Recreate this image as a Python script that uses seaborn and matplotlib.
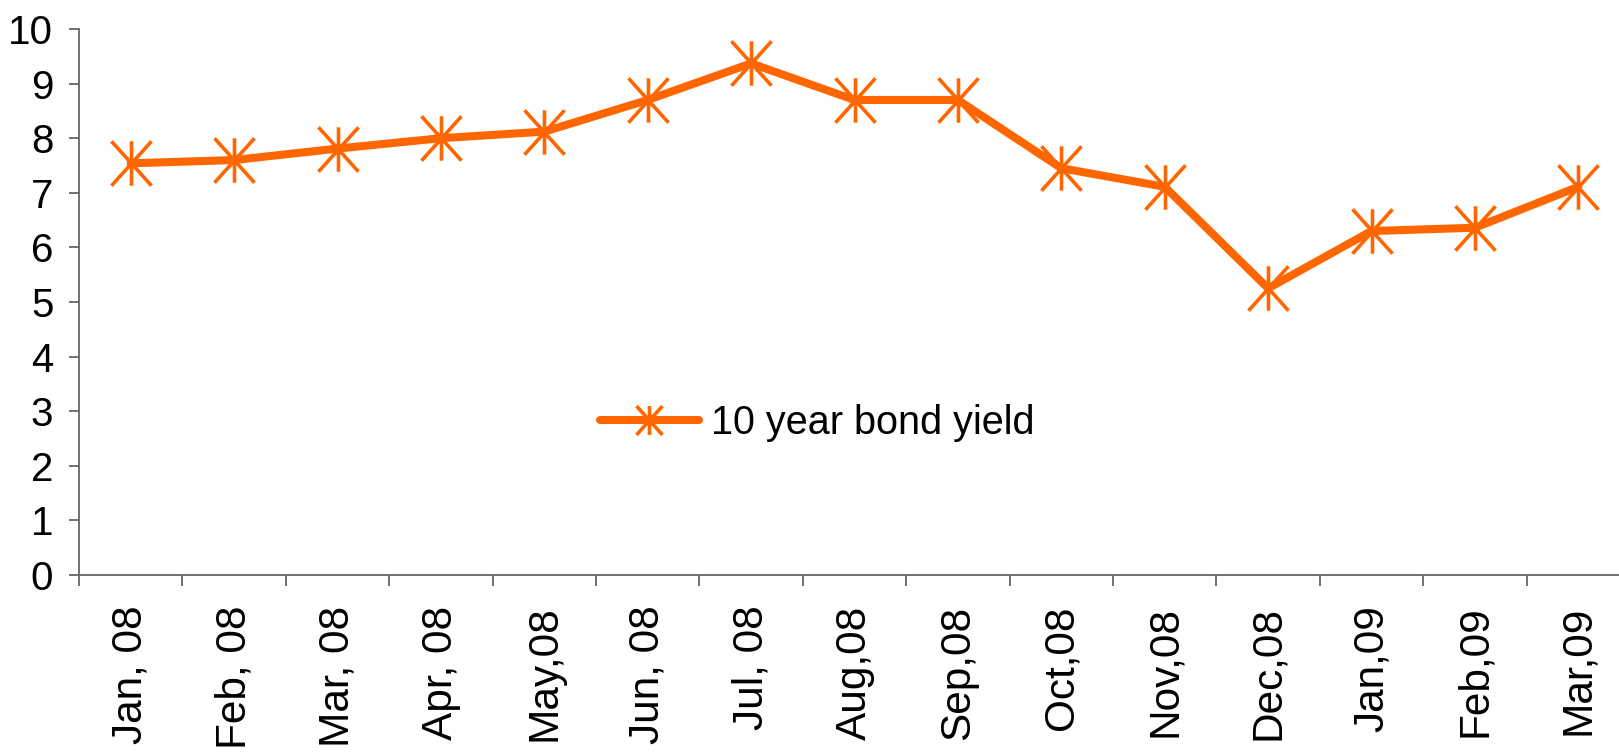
import matplotlib
matplotlib.use("Agg")
import matplotlib.pyplot as plt
from matplotlib.path import Path
from matplotlib.ticker import FixedLocator
import numpy as np
import pandas as pd
import seaborn as sns

months = ["Jan, 08", "Feb, 08", "Mar, 08", "Apr, 08", "May,08", "Jun, 08",
          "Jul, 08", "Aug,08", "Sep,08", "Oct,08", "Nov,08", "Dec,08",
          "Jan,09", "Feb,09", "Mar,09"]
bond_yield = [7.54, 7.60, 7.81, 8.00, 8.12, 8.70, 9.37, 8.70, 8.70, 7.45,
              7.11, 5.25, 6.30, 6.36, 7.11]
series_name = "10 year bond yield"
y_ticks = list(range(0, 11))

df = pd.DataFrame({"pos": np.arange(len(months)), "value": bond_yield})

sns.set_theme(style="white")
plt.rcParams["font.family"] = ["Liberation Sans", "DejaVu Sans"]
plt.rcParams["text.color"] = "black"
plt.rcParams["xtick.color"] = "black"
plt.rcParams["ytick.color"] = "black"

orange = "#FF6600"
axis_grey = "#666666"

# asterisk marker: vertical bar plus a diagonal cross
asterisk = Path(
    [(0, -1), (0, 1), (-0.9, -1), (0.9, 1), (-0.9, 1), (0.9, -1)],
    [Path.MOVETO, Path.LINETO, Path.MOVETO, Path.LINETO, Path.MOVETO, Path.LINETO],
)

fig = plt.figure(figsize=(16.19, 7.52), dpi=100)
ax = fig.add_axes([79 / 1619, 177 / 752, 1551 / 1619, 546 / 752])

sns.lineplot(data=df, x="pos", y="value", ax=ax, color=orange, linewidth=5.8,
             marker=asterisk, markersize=32, markeredgewidth=2.6,
             markeredgecolor=orange, markerfacecolor="none",
             solid_capstyle="round", label=series_name, clip_on=False)

ax.set_xlim(-0.5, len(months) - 0.5)
ax.set_ylim(0, 10)
ax.set_xlabel("")
ax.set_ylabel("")

ax.set_yticks(y_ticks)
ax.set_yticklabels([str(t) for t in y_ticks], fontsize=29, color="black")

ax.set_xticks(np.arange(len(months)))
ax.set_xticklabels(months, rotation=90, fontsize=30.5, color="black")
ax.xaxis.set_minor_locator(FixedLocator(np.arange(len(months) + 1) - 0.5))
ax.tick_params(axis="x", which="major", length=0, pad=22)
ax.tick_params(axis="x", which="minor", length=8, width=1.3, color=axis_grey,
               direction="out", bottom=True)
ax.tick_params(axis="y", which="major", length=7.5, width=1.3, color=axis_grey,
               direction="out", left=True, pad=11)

for side in ("top", "right"):
    ax.spines[side].set_visible(False)
for side in ("left", "bottom"):
    ax.spines[side].set_color(axis_grey)
    ax.spines[side].set_linewidth(1.3)

leg = ax.legend(loc="center left", bbox_to_anchor=(600 / 1619, (752 - 423) / 752),
                bbox_transform=fig.transFigure, frameon=False, fontsize=28.5,
                handlelength=2.5, handletextpad=0.3, borderpad=0,
                borderaxespad=0, markerscale=0.65)
for txt in leg.get_texts():
    txt.set_color("black")

fig.savefig("out.png", dpi=100)
